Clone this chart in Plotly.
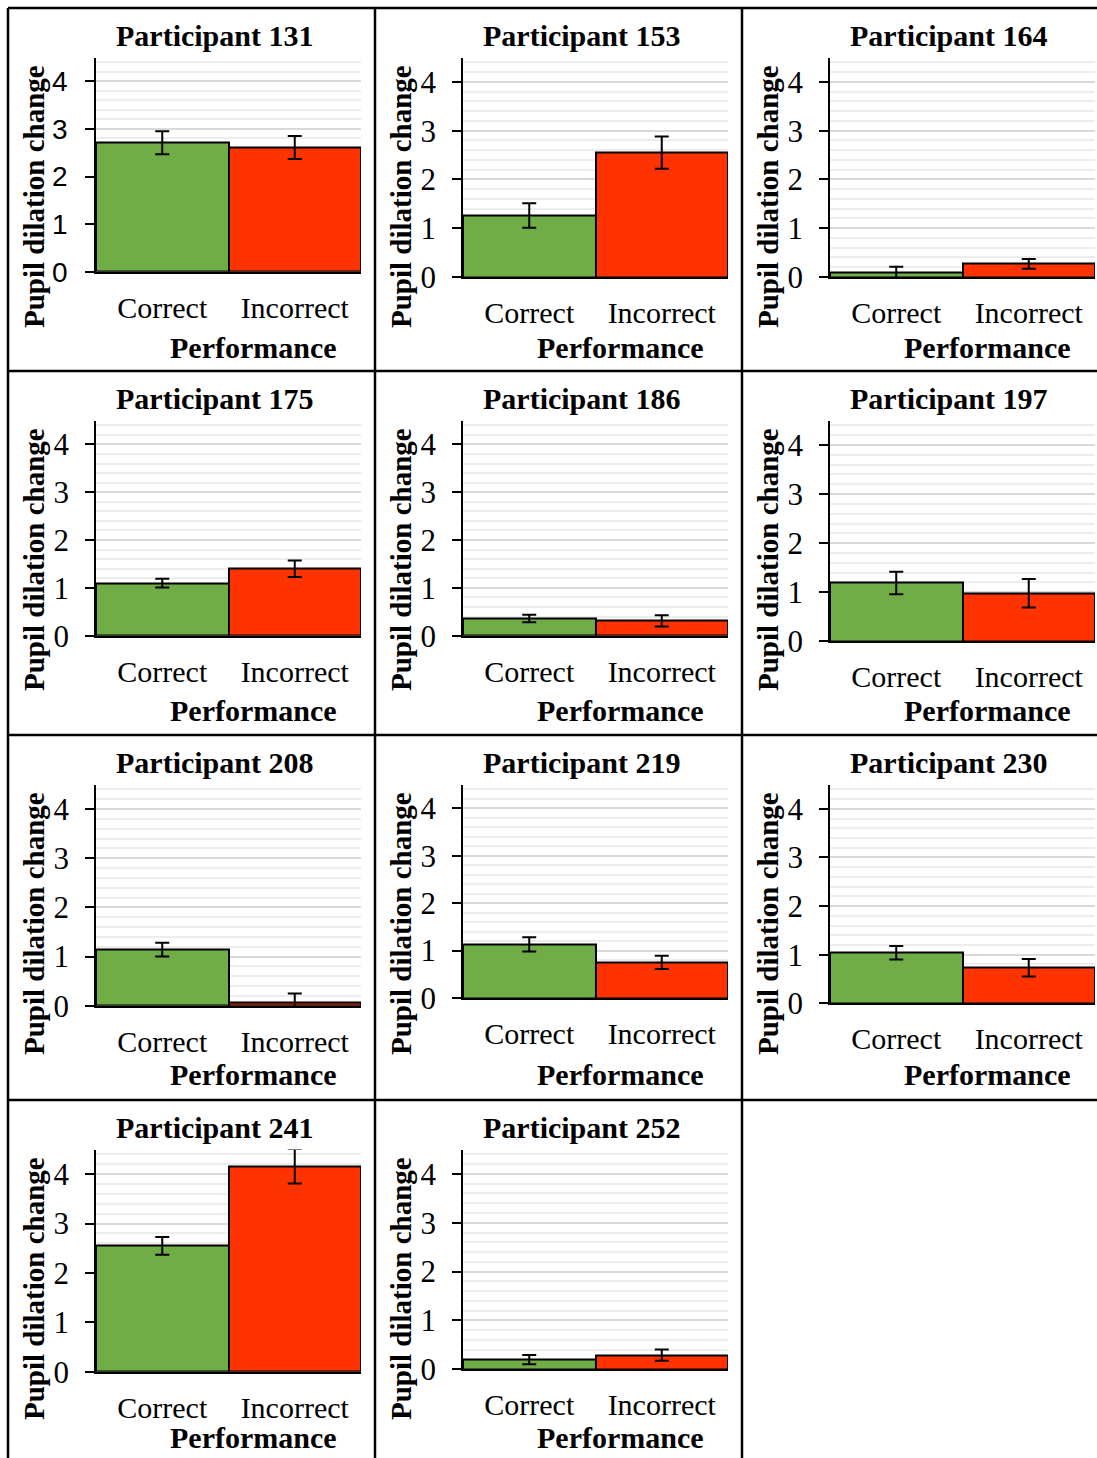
import plotly.graph_objects as go

# ---------------- data ----------------
participants = ["131", "153", "164", "175", "186", "197", "208", "219", "230", "241", "252"]
categories = ["Correct", "Incorrect"]
correct_mean = [2.71, 1.26, 0.09, 1.10, 0.36, 1.19, 1.14, 1.13, 1.04, 2.55, 0.20]
correct_err = [0.24, 0.25, 0.12, 0.09, 0.08, 0.23, 0.14, 0.15, 0.14, 0.18, 0.095]
incorrect_mean = [2.61, 2.55, 0.27, 1.40, 0.31, 0.98, 0.07, 0.75, 0.73, 4.16, 0.29]
incorrect_err = [0.24, 0.33, 0.10, 0.17, 0.12, 0.29, 0.18, 0.14, 0.18, 0.35, 0.115]
y_ticks = [0, 1, 2, 3, 4]
y_title = "Pupil dilation change"
x_title = "Performance"

# ---------------- layout config ----------------
W, H = 1097, 1458
col_x = [8, 375, 742]
row_y = [8, 371, 735, 1100]
plot_left, plot_right, plot_top = 88, 353, 49.5
plot_bottom = [263.7, 269, 269, 264.7, 264.7, 270.3, 270.7, 263, 268.3, 271.7, 269.3]
bar_colors = ["#70AD47", "#FF3300"]
SERIF = "Liberation Serif"

fig = go.Figure()
annotations = []
shapes = []

for i, p in enumerate(participants):
    r, c = divmod(i, 3)
    cx, cy = col_x[c], row_y[r]
    n = "" if i == 0 else str(i + 1)
    xa, ya = "x" + n, "y" + n
    fig.add_trace(go.Bar(
        x=categories,
        y=[correct_mean[i], incorrect_mean[i]],
        marker=dict(color=bar_colors, line=dict(color="black", width=2)),
        error_y=dict(type="data", array=[correct_err[i], incorrect_err[i]],
                     color="black", thickness=2, width=7),
        width=1.0,
        xaxis=xa, yaxis=ya, showlegend=False,
    ))
    xdom = [(cx + plot_left) / W, (cx + plot_right) / W]
    ydom = [1 - (cy + plot_bottom[i]) / H, 1 - (cy + plot_top) / H]
    tickfont = dict(family="Liberation Sans" if i == 0 else SERIF, size=28 if i == 0 else 31, color="black")
    fig.layout["xaxis" + n] = dict(
        domain=xdom, anchor=ya, type="category", range=[-0.5, 1.5],
        showline=True, linecolor="black", linewidth=2, ticks="", showgrid=False,
        tickfont=dict(family=SERIF, size=30, color="black"), ticklabelstandoff=8,
        fixedrange=True, automargin=False,
    )
    fig.layout["yaxis" + n] = dict(
        domain=ydom, anchor=xa, range=[0, 4.5], tickvals=y_ticks,
        showline=True, linecolor="black", linewidth=1.5,
        ticks="outside", ticklen=9, tickcolor="black", tickwidth=1.5,
        showgrid=True, gridcolor="#d9d9d9", gridwidth=1.5, zeroline=False,
        minor=dict(dtick=0.2, tick0=0, showgrid=True, gridcolor="#ededed", gridwidth=1.5, ticks=""),
        tickfont=tickfont, ticklabelstandoff=(12 if i == 0 else 10),
        fixedrange=True, automargin=False,
    )
    annotations.append(dict(text="<b>Participant " + p + "</b>", xref="paper", yref="paper",
                            x=(cx + 206) / W, y=1 - (cy + 27.5) / H, xanchor="center", yanchor="middle",
                            showarrow=False, font=dict(family=SERIF, size=30, color="black")))
    annotations.append(dict(text="<b>" + y_title + "</b>", xref="paper", yref="paper",
                            x=(cx + 26) / W, y=1 - (cy + 189) / H, xanchor="center", yanchor="middle",
                            textangle=-90, showarrow=False, font=dict(family=SERIF, size=29, color="black")))
    perf_y = min(cy + 339, H - 21)
    annotations.append(dict(text="<b>" + x_title + "</b>", xref="paper", yref="paper",
                            x=(cx + 245) / W, y=1 - perf_y / H, xanchor="center", yanchor="middle",
                            borderpad=0, showarrow=False, font=dict(family=SERIF, size=30, color="black")))

# panel grid borders
for yy in row_y:
    shapes.append(dict(type="line", xref="paper", yref="paper", x0=8 / W, x1=1.0,
                       y0=1 - yy / H, y1=1 - yy / H, line=dict(color="black", width=2.5)))
for xx in col_x:
    shapes.append(dict(type="line", xref="paper", yref="paper", x0=xx / W, x1=xx / W,
                       y0=1 - 8 / H, y1=0, line=dict(color="black", width=2.5)))

fig.update_layout(
    width=W, height=H, autosize=False, margin=dict(l=0, r=0, t=0, b=0, pad=0),
    paper_bgcolor="white", plot_bgcolor="white",
    bargap=0, annotations=annotations, shapes=shapes,
    font=dict(family=SERIF, color="black"),
)

fig.write_html("out.html")
